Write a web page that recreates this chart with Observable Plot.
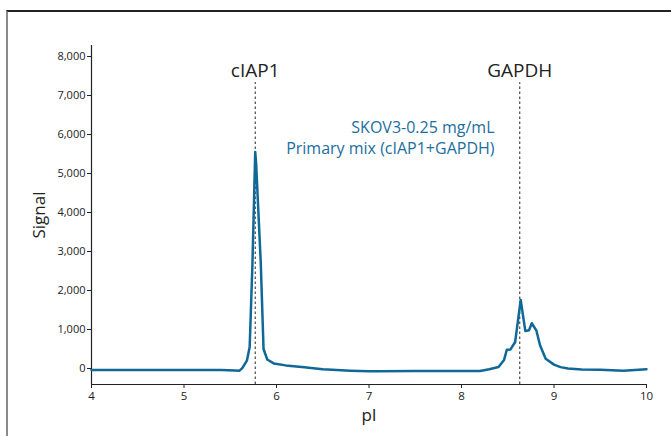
<!DOCTYPE html>
<html>
<head>
<meta charset="utf-8">
<script src="https://cdn.jsdelivr.net/npm/d3@7"></script>
<script src="https://cdn.jsdelivr.net/npm/@observablehq/plot@0.6"></script>
<style>
  html, body { margin: 0; padding: 0; background: #fff; }
  #wrap { position: relative; width: 671px; height: 436px; overflow: hidden; }
  #frame { position: absolute; left: 6px; top: 10px; right: -2px; bottom: -2px;
           border-top: 2px solid #222; border-left: 2px solid #8a8a8a; pointer-events: none; }
  #chart { position: absolute; left: 0; top: 0; }
</style>
</head>
<body>
<div id="wrap"><div id="chart"></div><div id="frame"></div></div>
<script>
// pI positions and signal of the electropherogram trace
const pI = [4.0, 4.5, 5.0, 5.4, 5.55, 5.6, 5.63, 5.68, 5.71, 5.74, 5.77, 5.78, 5.83, 5.86, 5.90, 5.97, 6.1, 6.3, 6.5, 6.8, 7.0, 7.1, 7.5, 8.0, 8.2, 8.3, 8.4, 8.46, 8.49, 8.53, 8.58, 8.64, 8.69, 8.73, 8.76, 8.81, 8.85, 8.91, 9.0, 9.07, 9.15, 9.3, 9.5, 9.75, 10.0];
const signal = [-40, -40, -40, -40, -50, -55, 10, 200, 550, 2700, 5550, 5250, 2700, 500, 230, 130, 80, 30, -20, -55, -70, -70, -65, -65, -65, -20, 40, 220, 480, 490, 680, 1760, 960, 980, 1160, 970, 590, 250, 100, 35, 0, -25, -35, -55, -20];

// peak markers
const markerNames = ["cIAP1", "GAPDH"];
const markerPI = [5.77, 8.63];

// axes
const xDomain = [4, 10];
const yDomain = [-410, 8282];
const xTicks = [4, 5, 6, 7, 8, 9, 10];
const yTicks = [0, 1000, 2000, 3000, 4000, 5000, 6000, 7000, 8000];

// annotation
const noteLines = ["SKOV3-0.25 mg/mL", "Primary mix (cIAP1+GAPDH)"];
const noteSignal = [6040, 5490];
const notePI = 8.357;
const markerTop = 7330;
const markerLabelY = 7470;

const trace = pI.map((x, i) => ({x, y: signal[i]}));
const markers = markerNames.map((name, i) => ({name, x: markerPI[i]}));
const notes = noteLines.map((t, i) => ({t, y: noteSignal[i]}));

const fmt = d3.format(",");

const chart = Plot.plot({
  width: 671,
  height: 436,
  marginLeft: 91,
  marginRight: 25,
  marginTop: 45,
  marginBottom: 52,
  style: {fontFamily: "'Open Sans', sans-serif", color: "#222", background: "transparent"},
  x: {domain: xDomain, ticks: xTicks, label: null},
  y: {domain: yDomain, ticks: yTicks, label: null},
  marks: [
    Plot.axisX({ticks: xTicks, tickSize: 4, tickPadding: 3, fontSize: 11.5, tickFormat: d => String(d), color: "#222"}),
    Plot.axisY({ticks: yTicks, tickSize: 4, tickPadding: 2, fontSize: 11, tickFormat: fmt, color: "#222"}),
    Plot.axisX({ticks: [], label: "pI", labelAnchor: "center", labelArrow: "none", labelOffset: 36, fontSize: 17}),
    Plot.axisY({ticks: [], label: "Signal", labelAnchor: "center", labelArrow: "none", labelOffset: 59, fontSize: 17}),
    Plot.ruleX([xDomain[0]], {stroke: "#222", strokeWidth: 1.2}),
    Plot.ruleY([yDomain[0]], {stroke: "#222", strokeWidth: 1.2}),
    Plot.ruleX(markers, {x: "x", y1: yDomain[0], y2: markerTop, stroke: "#222", strokeWidth: 1, strokeDasharray: "2.5,2.5"}),
    Plot.text(markers, {x: "x", y: markerLabelY, text: "name", fontSize: 19, fill: "#222", lineAnchor: "bottom"}),
    Plot.line(trace, {x: "x", y: "y", stroke: "#0f6898", strokeWidth: 2.5, curve: "linear"}),
    Plot.text(notes, {x: notePI, y: "y", text: "t", textAnchor: "end", lineAnchor: "bottom", fontSize: 16, fill: "#1c6e9e"})
  ]
});
document.getElementById("chart").appendChild(chart);
</script>
</body>
</html>
